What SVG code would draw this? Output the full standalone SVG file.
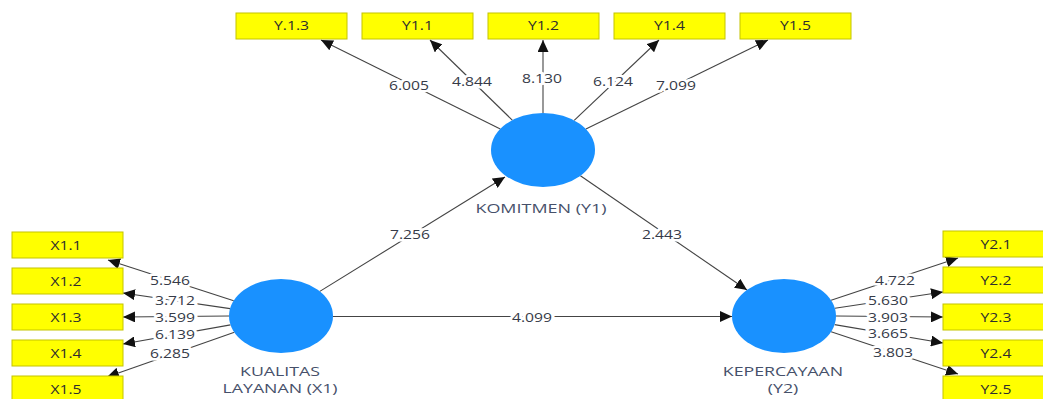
<svg xmlns="http://www.w3.org/2000/svg" width="1043" height="399" viewBox="0 0 1043 399">
<style>
.box{fill:#ffff00;stroke:#c4c400;stroke-width:1}
.lv{fill:#1991ff}
text{font-family:"Open Sans","Liberation Sans",sans-serif;text-anchor:middle}
.bt{font-size:11.8px;fill:#2e2e2e}
.nl{font-size:13.5px;fill:#46506a}
.nl2{font-size:12.5px;fill:#46506a}
.ed{stroke:#444;stroke-width:1.1;fill:none;marker-end:url(#ah)}
.el{font-size:11.8px;fill:#363b48;stroke:#fff;stroke-width:5;paint-order:stroke;stroke-linejoin:round}
</style>
<defs>
<marker id="ah" markerUnits="userSpaceOnUse" markerWidth="13" markerHeight="11" refX="12" refY="5.5" orient="auto">
<path d="M0,0 L12,5.5 L0,11 z" fill="#111"/>
</marker>
</defs>
<rect width="1043" height="399" fill="#fff"/>
<g id="connectors">
<line class="ed" x1="500.3" y1="128.9" x2="321" y2="40"/>
<line class="ed" x1="512.3" y1="120.1" x2="430" y2="40"/>
<line class="ed" x1="543" y1="113" x2="543" y2="40"/>
<line class="ed" x1="574.2" y1="120.4" x2="659" y2="40"/>
<line class="ed" x1="585.9" y1="129" x2="768" y2="40"/>
<line class="ed" x1="233.7" y1="300.7" x2="108" y2="260"/>
<line class="ed" x1="230.1" y1="308.6" x2="123" y2="293"/>
<line class="ed" x1="229" y1="316" x2="123" y2="317"/>
<line class="ed" x1="230.5" y1="324.9" x2="123" y2="344"/>
<line class="ed" x1="234.4" y1="332.3" x2="107" y2="377"/>
<line class="ed" x1="831.1" y1="300.3" x2="958" y2="258"/>
<line class="ed" x1="834.9" y1="308.3" x2="943" y2="292"/>
<line class="ed" x1="836" y1="316" x2="943" y2="317"/>
<line class="ed" x1="834.6" y1="324.6" x2="943" y2="343"/>
<line class="ed" x1="831.1" y1="331.7" x2="958" y2="374"/>
<line class="ed" x1="319.8" y1="291.4" x2="505" y2="177"/>
<line class="ed" x1="580.4" y1="175.7" x2="747" y2="290"/>
<line class="ed" x1="333" y1="316.5" x2="732" y2="316.5"/>
<text class="el" transform="translate(409 0) scale(1.33 1)" x="0" y="90">6.005</text>
<text class="el" transform="translate(472 0) scale(1.33 1)" x="0" y="86">4.844</text>
<text class="el" transform="translate(542 0) scale(1.33 1)" x="0" y="83">8.130</text>
<text class="el" transform="translate(613 0) scale(1.33 1)" x="0" y="86">6.124</text>
<text class="el" transform="translate(676 0) scale(1.33 1)" x="0" y="90">7.099</text>
<text class="el" transform="translate(170 0) scale(1.33 1)" x="0" y="285">5.546</text>
<text class="el" transform="translate(175 0) scale(1.33 1)" x="0" y="305">3.712</text>
<text class="el" transform="translate(175 0) scale(1.33 1)" x="0" y="322">3.599</text>
<text class="el" transform="translate(175 0) scale(1.33 1)" x="0" y="339">6.139</text>
<text class="el" transform="translate(170 0) scale(1.33 1)" x="0" y="358">6.285</text>
<text class="el" transform="translate(895 0) scale(1.33 1)" x="0" y="285">4.722</text>
<text class="el" transform="translate(888 0) scale(1.33 1)" x="0" y="305">5.630</text>
<text class="el" transform="translate(888 0) scale(1.33 1)" x="0" y="322">3.903</text>
<text class="el" transform="translate(888 0) scale(1.33 1)" x="0" y="338">3.665</text>
<text class="el" transform="translate(893 0) scale(1.33 1)" x="0" y="357">3.803</text>
<text class="el" transform="translate(410 0) scale(1.33 1)" x="0" y="239">7.256</text>
<text class="el" transform="translate(662 0) scale(1.33 1)" x="0" y="239">2.443</text>
<text class="el" transform="translate(532 0) scale(1.33 1)" x="0" y="322">4.099</text>
</g>
<g id="Y1_3"><rect class="box" x="236" y="13" width="111" height="26"/><text class="bt" transform="translate(291.5 0) scale(1.33 1)" x="0" y="30.5">Y.1.3</text></g>
<g id="Y1_1"><rect class="box" x="362" y="13" width="111" height="26"/><text class="bt" transform="translate(417.5 0) scale(1.33 1)" x="0" y="30.5">Y1.1</text></g>
<g id="Y1_2"><rect class="box" x="488" y="13" width="111" height="26"/><text class="bt" transform="translate(543.5 0) scale(1.33 1)" x="0" y="30.5">Y1.2</text></g>
<g id="Y1_4"><rect class="box" x="614" y="13" width="111" height="26"/><text class="bt" transform="translate(669.5 0) scale(1.33 1)" x="0" y="30.5">Y1.4</text></g>
<g id="Y1_5"><rect class="box" x="740" y="13" width="111" height="26"/><text class="bt" transform="translate(795.5 0) scale(1.33 1)" x="0" y="30.5">Y1.5</text></g>
<g id="X1_1"><rect class="box" x="12" y="232" width="111" height="26"/><text class="bt" transform="translate(66 0) scale(1.33 1)" x="0" y="250">X1.1</text></g>
<g id="X1_2"><rect class="box" x="12" y="268" width="111" height="26"/><text class="bt" transform="translate(66 0) scale(1.33 1)" x="0" y="286">X1.2</text></g>
<g id="X1_3"><rect class="box" x="12" y="304" width="111" height="26"/><text class="bt" transform="translate(66 0) scale(1.33 1)" x="0" y="322">X1.3</text></g>
<g id="X1_4"><rect class="box" x="12" y="340" width="111" height="26"/><text class="bt" transform="translate(66 0) scale(1.33 1)" x="0" y="358">X1.4</text></g>
<g id="X1_5"><rect class="box" x="12" y="376" width="111" height="26"/><text class="bt" transform="translate(66 0) scale(1.33 1)" x="0" y="394">X1.5</text></g>
<g id="Y2_1"><rect class="box" x="943" y="231" width="111" height="26"/><text class="bt" transform="translate(996 0) scale(1.33 1)" x="0" y="249">Y2.1</text></g>
<g id="Y2_2"><rect class="box" x="943" y="267" width="111" height="26"/><text class="bt" transform="translate(996 0) scale(1.33 1)" x="0" y="285">Y2.2</text></g>
<g id="Y2_3"><rect class="box" x="943" y="304" width="111" height="26"/><text class="bt" transform="translate(996 0) scale(1.33 1)" x="0" y="322">Y2.3</text></g>
<g id="Y2_4"><rect class="box" x="943" y="340" width="111" height="26"/><text class="bt" transform="translate(996 0) scale(1.33 1)" x="0" y="358">Y2.4</text></g>
<g id="Y2_5"><rect class="box" x="943" y="376" width="111" height="26"/><text class="bt" transform="translate(996 0) scale(1.33 1)" x="0" y="394">Y2.5</text></g>
<g id="KOMITMEN"><ellipse class="lv" cx="543" cy="150" rx="52" ry="37"/><text class="nl" transform="translate(541 0) scale(1.33 1)" x="0" y="213">KOMITMEN (Y1)</text></g>
<g id="KUALITAS"><ellipse class="lv" cx="281" cy="316" rx="52" ry="37"/><text class="nl2" transform="translate(280 0) scale(1.42 1)" x="0" y="376">KUALITAS</text><text class="nl2" transform="translate(280 0) scale(1.42 1)" x="0" y="393">LAYANAN (X1)</text></g>
<g id="KEPERCAYAAN"><ellipse class="lv" cx="784" cy="316" rx="52" ry="37"/><text class="nl2" transform="translate(783 0) scale(1.42 1)" x="0" y="376">KEPERCAYAAN</text><text class="nl2" transform="translate(783 0) scale(1.42 1)" x="0" y="393">(Y2)</text></g>
</svg>
